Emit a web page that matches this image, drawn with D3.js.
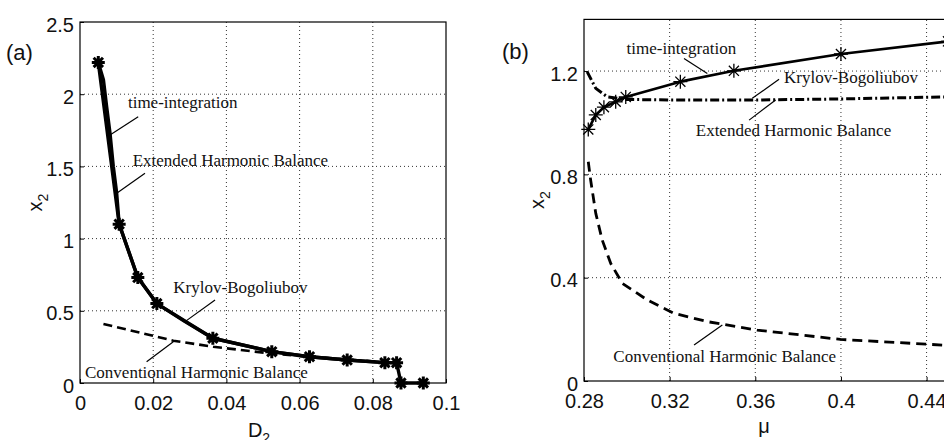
<!DOCTYPE html>
<html><head><meta charset="utf-8">
<script src="https://cdn.jsdelivr.net/npm/d3@7"></script>
<style>body{margin:0;background:#fff;} svg{display:block;}</style>
</head><body>
<svg id="c" width="944" height="440"></svg>
<script>
// ---------- Panel (a) data ----------
const aTicksX = [0, 0.02, 0.04, 0.06, 0.08, 0.1];
const aTickLabelsX = ["0", "0.02", "0.04", "0.06", "0.08", "0.1"];
const aTicksY = [0, 0.5, 1, 1.5, 2, 2.5];
const aTickLabelsY = ["0", "0.5", "1", "1.5", "2", "2.5"];
// time-integration (stars)
const aTimeX = [0.005, 0.0107, 0.0158, 0.021, 0.0363, 0.0524, 0.0627, 0.073, 0.0833, 0.0865, 0.0877, 0.0938];
const aTimeY = [2.22, 1.10, 0.73, 0.55, 0.31, 0.217, 0.182, 0.159, 0.141, 0.141, 0, 0];
// Extended Harmonic Balance / Krylov-Bogoliubov (solid, coincident)
const aExtX = [0.005, 0.0064, 0.0073, 0.0082, 0.0091, 0.0100, 0.0107, 0.0158, 0.021, 0.0287, 0.0363, 0.0524, 0.0627, 0.073, 0.0833, 0.0865];
const aExtY = [2.22, 2.10, 1.91, 1.73, 1.50, 1.32, 1.10, 0.73, 0.55, 0.425, 0.31, 0.217, 0.182, 0.159, 0.141, 0.141];
// Conventional Harmonic Balance (dashed)
const aConvX = [0.0064, 0.0255, 0.0364, 0.0519, 0.0627, 0.073, 0.0833, 0.0865];
const aConvY = [0.409, 0.293, 0.251, 0.205, 0.182, 0.162, 0.145, 0.14];

// ---------- Panel (b) data ----------
const bTicksX = [0.28, 0.32, 0.36, 0.4, 0.44];
const bTickLabelsX = ["0.28", "0.32", "0.36", "0.4", "0.44"];
const bTicksY = [0, 0.4, 0.8, 1.2];
const bTickLabelsY = ["0", "0.4", "0.8", "1.2"];
const bTimeX = [0.282, 0.2855, 0.2893, 0.2948, 0.2995, 0.325, 0.35, 0.40, 0.45];
const bTimeY = [0.974, 1.03, 1.06, 1.081, 1.10, 1.159, 1.201, 1.266, 1.315];
// Krylov-Bogoliubov / Extended HB (dash-dot)
const bKBX = [0.2815, 0.2855, 0.2909, 0.30, 0.32, 0.36, 0.40, 0.45];
const bKBY = [1.197, 1.133, 1.10, 1.09, 1.088, 1.088, 1.092, 1.10];
// Conventional Harmonic Balance (dashed)
const bConvX = [0.282, 0.2831, 0.2855, 0.2885, 0.2925, 0.2979, 0.3095, 0.322, 0.3375, 0.3609, 0.3998, 0.45];
const bConvY = [0.849, 0.778, 0.649, 0.546, 0.455, 0.378, 0.314, 0.262, 0.23, 0.197, 0.161, 0.138];

// annotation labels (data coordinates): [text, x, y, leaderX1, leaderY1, leaderX2, leaderY2]
const aNotes = [
  ["time-integration", 0.0131, 1.904, 0.0159, 1.844, 0.0082, 1.717],
  ["Extended Harmonic Balance", 0.0144, 1.505, 0.01776, 1.452, 0.01003, 1.314],
  ["Krylov-Bogoliubov", 0.0255, 0.623, 0.0369, 0.575, 0.0287, 0.425],
  ["Conventional Harmonic Balance", 0.00137, 0.0325, 0.0255, 0.286, 0.0182, 0.1475]
];
const bNotes = [
  ["time-integration", 0.2999, 1.265, 0.3267, 1.249, 0.3376, 1.191],
  ["Krylov-Bogoliubov", 0.3734, 1.1525, 0.3711, 1.168, 0.3586, 1.0945],
  ["Extended Harmonic Balance", 0.3322, 0.950, 0.3695, 1.088, 0.3571, 1.010],
  ["Conventional Harmonic Balance", 0.2937, 0.0747, 0.3446, 0.2168, 0.3314, 0.139]
];

const svg = d3.select("#c");
const SANS = "'Liberation Sans', Arial, Helvetica, sans-serif";
const SERIF = "'Liberation Serif', 'Times New Roman', serif";

function zip(xs, ys) { return xs.map((x, i) => [x, ys[i]]); }
function starPath(cx, cy, r) {
  const d = r * 0.72;
  return `M${cx - r},${cy}L${cx + r},${cy}M${cx},${cy - r}L${cx},${cy + r}` +
         `M${cx - d},${cy - d}L${cx + d},${cy + d}M${cx - d},${cy + d}L${cx + d},${cy - d}`;
}

function panel(opt) {
  const x = d3.scaleLinear().domain(opt.xDom).range(opt.xRange);
  const y = d3.scaleLinear().domain(opt.yDom).range(opt.yRange);
  const g = svg.append("g");
  const [x0, x1] = opt.xRange, [y0, y1] = opt.yRange;

  // grid (dotted)
  const grid = g.append("g").attr("stroke", "#333").attr("stroke-width", 1).attr("stroke-dasharray", "1,3");
  opt.ticksX.forEach(t => { if (x(t) > x0 + 1 && x(t) < x1 - 1) grid.append("line").attr("x1", x(t)).attr("x2", x(t)).attr("y1", y0).attr("y2", y1); });
  opt.ticksY.forEach(t => { if (y(t) < y0 - 1 && y(t) > y1 + 1) grid.append("line").attr("x1", x0).attr("x2", x1).attr("y1", y(t)).attr("y2", y(t)); });

  // axes with inward ticks
  const ax = d3.axisBottom(x).tickValues(opt.ticksX).tickSize(-4).tickPadding(10).tickFormat((d, i) => opt.labelsX[i]);
  const ay = d3.axisLeft(y).tickValues(opt.ticksY).tickSize(-4).tickPadding(6).tickFormat((d, i) => opt.labelsY[i]);
  const gx = g.append("g").attr("transform", `translate(0,${y0})`).call(ax);
  const gy = g.append("g").attr("transform", `translate(${x0},0)`).call(ay);
  [gx, gy].forEach(a => {
    a.select(".domain").remove();
    a.selectAll("line").attr("stroke", "#000");
    a.selectAll("text").attr("font-family", SANS).attr("font-size", 20).attr("fill", "#111");
  });
  gx.selectAll("text").attr("dy", "0.85em");
  gy.selectAll("text").attr("dy", "0.45em");

  // frame
  g.append("rect").attr("x", x0).attr("y", y1).attr("width", x1 - x0).attr("height", y0 - y1)
    .attr("fill", "none").attr("stroke", "#000").attr("stroke-width", 1.2);

  const line = d3.line().x(d => x(d[0])).y(d => y(d[1]));
  opt.series.forEach(s => {
    g.append("path").attr("d", line(s.pts)).attr("fill", "none").attr("stroke", "#000")
      .attr("stroke-width", s.w).attr("stroke-dasharray", s.dash || null).attr("stroke-linejoin", "round");
    if (s.star) {
      g.append("path").attr("d", s.pts.map(p => starPath(x(p[0]), y(p[1]), s.star)).join(""))
        .attr("fill", "none").attr("stroke", "#000").attr("stroke-width", s.starW);
    }
  });

  // annotations
  opt.notes.forEach(n => {
    g.append("text").attr("x", x(n[1])).attr("y", y(n[2])).text(n[0])
      .attr("font-family", SERIF).attr("font-size", 17).attr("fill", "#111");
    g.append("line").attr("x1", x(n[3])).attr("y1", y(n[4])).attr("x2", x(n[5])).attr("y2", y(n[6]))
      .attr("stroke", "#000").attr("stroke-width", 1.2);
  });

  // axis titles
  const xt = g.append("text").attr("x", (x0 + Math.min(x1, 944)) / 2 + opt.xTitleDx).attr("y", opt.xTitleY)
    .attr("text-anchor", "middle").attr("font-family", SANS).attr("font-size", 20).attr("fill", "#111");
  xt.append("tspan").text(opt.xTitle);
  if (opt.xSub) xt.append("tspan").attr("font-size", 14).attr("dy", 6).text(opt.xSub);

  const yt = g.append("text").attr("transform", `translate(${opt.yTitleX},${(y0 + y1) / 2}) rotate(-90)`)
    .attr("text-anchor", "middle").attr("font-family", SANS).attr("font-size", 20).attr("fill", "#111");
  yt.append("tspan").text("x");
  yt.append("tspan").attr("font-size", 14).attr("dy", 6).text("2");

  g.append("text").attr("x", opt.tagX).attr("y", opt.tagY).text(opt.tag)
    .attr("font-family", SANS).attr("font-size", 22).attr("fill", "#111");
}

panel({
  xDom: [0, 0.1], xRange: [80, 446], yDom: [0, 2.5], yRange: [383, 22],
  ticksX: aTicksX, labelsX: aTickLabelsX, ticksY: aTicksY, labelsY: aTickLabelsY,
  series: [
    { pts: zip(aConvX, aConvY), w: 2.6, dash: "9,5" },
    { pts: zip(aExtX, aExtY), w: 3.4 },
    { pts: zip(aTimeX, aTimeY), w: 3.4, star: 6.5, starW: 3 }
  ],
  notes: aNotes,
  xTitle: "D", xSub: "2", xTitleDx: -4, xTitleY: 437,
  yTitleX: 42, tag: "(a)", tagX: 6, tagY: 60
});

panel({
  xDom: [0.28, 0.45], xRange: [584, 948], yDom: [0, 1.4], yRange: [381, 19.4],
  ticksX: bTicksX, labelsX: bTickLabelsX, ticksY: bTicksY, labelsY: bTickLabelsY,
  series: [
    { pts: zip(bConvX, bConvY), w: 2.8, dash: "10,6" },
    { pts: zip(bKBX, bKBY), w: 3, dash: "9,3,2,3" },
    { pts: zip(bTimeX, bTimeY), w: 2.6, star: 7, starW: 1.3 }
  ],
  notes: bNotes,
  xTitle: "μ", xSub: null, xTitleDx: 0, xTitleY: 433,
  yTitleX: 544, tag: "(b)", tagX: 502, tagY: 59
});
</script>
</body></html>
